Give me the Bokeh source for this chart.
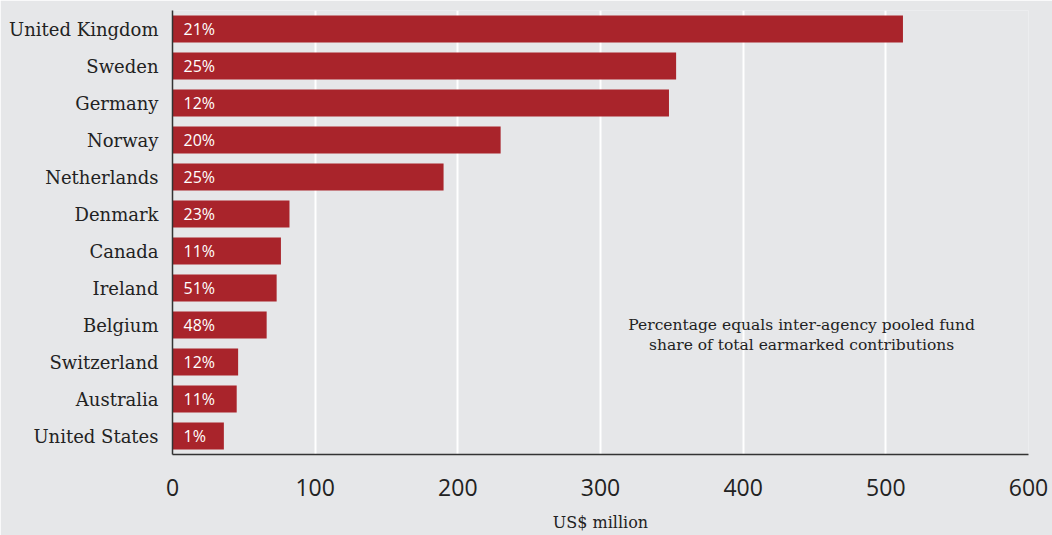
from bokeh.plotting import figure
from bokeh.models import Range1d, FactorRange, Label, ColumnDataSource
from bokeh.core.properties import value
from bokeh.embed import file_html
from bokeh.resources import INLINE

countries = ["United Kingdom", "Sweden", "Germany", "Norway", "Netherlands", "Denmark",
             "Canada", "Ireland", "Belgium", "Switzerland", "Australia", "United States"]
amounts = [512, 353, 348, 230, 190, 82, 76, 73, 66, 46, 45, 36]
shares = ["21%", "25%", "12%", "20%", "25%", "23%", "11%", "51%", "48%", "12%", "11%", "1%"]
x_ticks = [0, 100, 200, 300, 400, 500, 600]

BG = "#e6e7e9"
BAR = "#a9242b"
SERIF = "DejaVu Serif"

src = ColumnDataSource(dict(country=countries, amount=amounts, share=shares,
                            zero=[0] * len(countries)))

p = figure(width=1052, height=535, output_backend="svg", toolbar_location=None,
           y_range=FactorRange(factors=countries[::-1], range_padding=0),
           x_range=Range1d(0, 600),
           background_fill_color=BG, border_fill_color=BG,
           min_border_left=172, min_border_right=24, min_border_top=10, min_border_bottom=81)
p.outline_line_color = None

p.hbar(y="country", right="amount", left=0, height=0.73, source=src,
       fill_color=BAR, line_color=None)
p.text(x="zero", y="country", text="share", source=src, x_offset=11,
       text_font=value("Open Sans"), text_font_size="16px", text_color="white",
       text_baseline="middle", text_align="left")

p.xgrid.grid_line_color = "white"
p.xgrid.grid_line_width = 2
p.ygrid.grid_line_color = None
p.xaxis.ticker = x_ticks
p.xaxis.axis_line_color = "#333333"
p.xaxis.axis_line_width = 1.5
p.xaxis.major_tick_line_color = None
p.xaxis.minor_tick_line_color = None
p.xaxis.major_label_text_font = "Open Sans"
p.xaxis.major_label_text_font_size = "23px"
p.xaxis.major_label_text_color = "#222222"
p.xaxis.major_label_standoff = 18
p.xaxis.axis_label = "US$ million"
p.xaxis.axis_label_text_font = SERIF
p.xaxis.axis_label_text_font_style = "normal"
p.xaxis.axis_label_text_font_size = "16px"
p.xaxis.axis_label_text_color = "#222222"
p.xaxis.axis_label_standoff = 14

p.yaxis.axis_line_color = "#333333"
p.yaxis.axis_line_width = 1.5
p.yaxis.major_tick_line_color = None
p.yaxis.minor_tick_line_color = None
p.yaxis.major_label_text_font = SERIF
p.yaxis.major_label_text_font_size = "18px"
p.yaxis.major_label_text_color = "#222222"
p.yaxis.major_label_standoff = 8

for i, line in enumerate(["Percentage equals inter-agency pooled fund",
                          "share of total earmarked contributions"]):
    p.add_layout(Label(x=441, y=3.5 - i * 0.54, text=line, text_font=SERIF,
                       text_font_size="15.5px", text_color="#222222",
                       text_align="center", text_baseline="middle"))

open("out.html", "w").write(file_html(p, INLINE))
